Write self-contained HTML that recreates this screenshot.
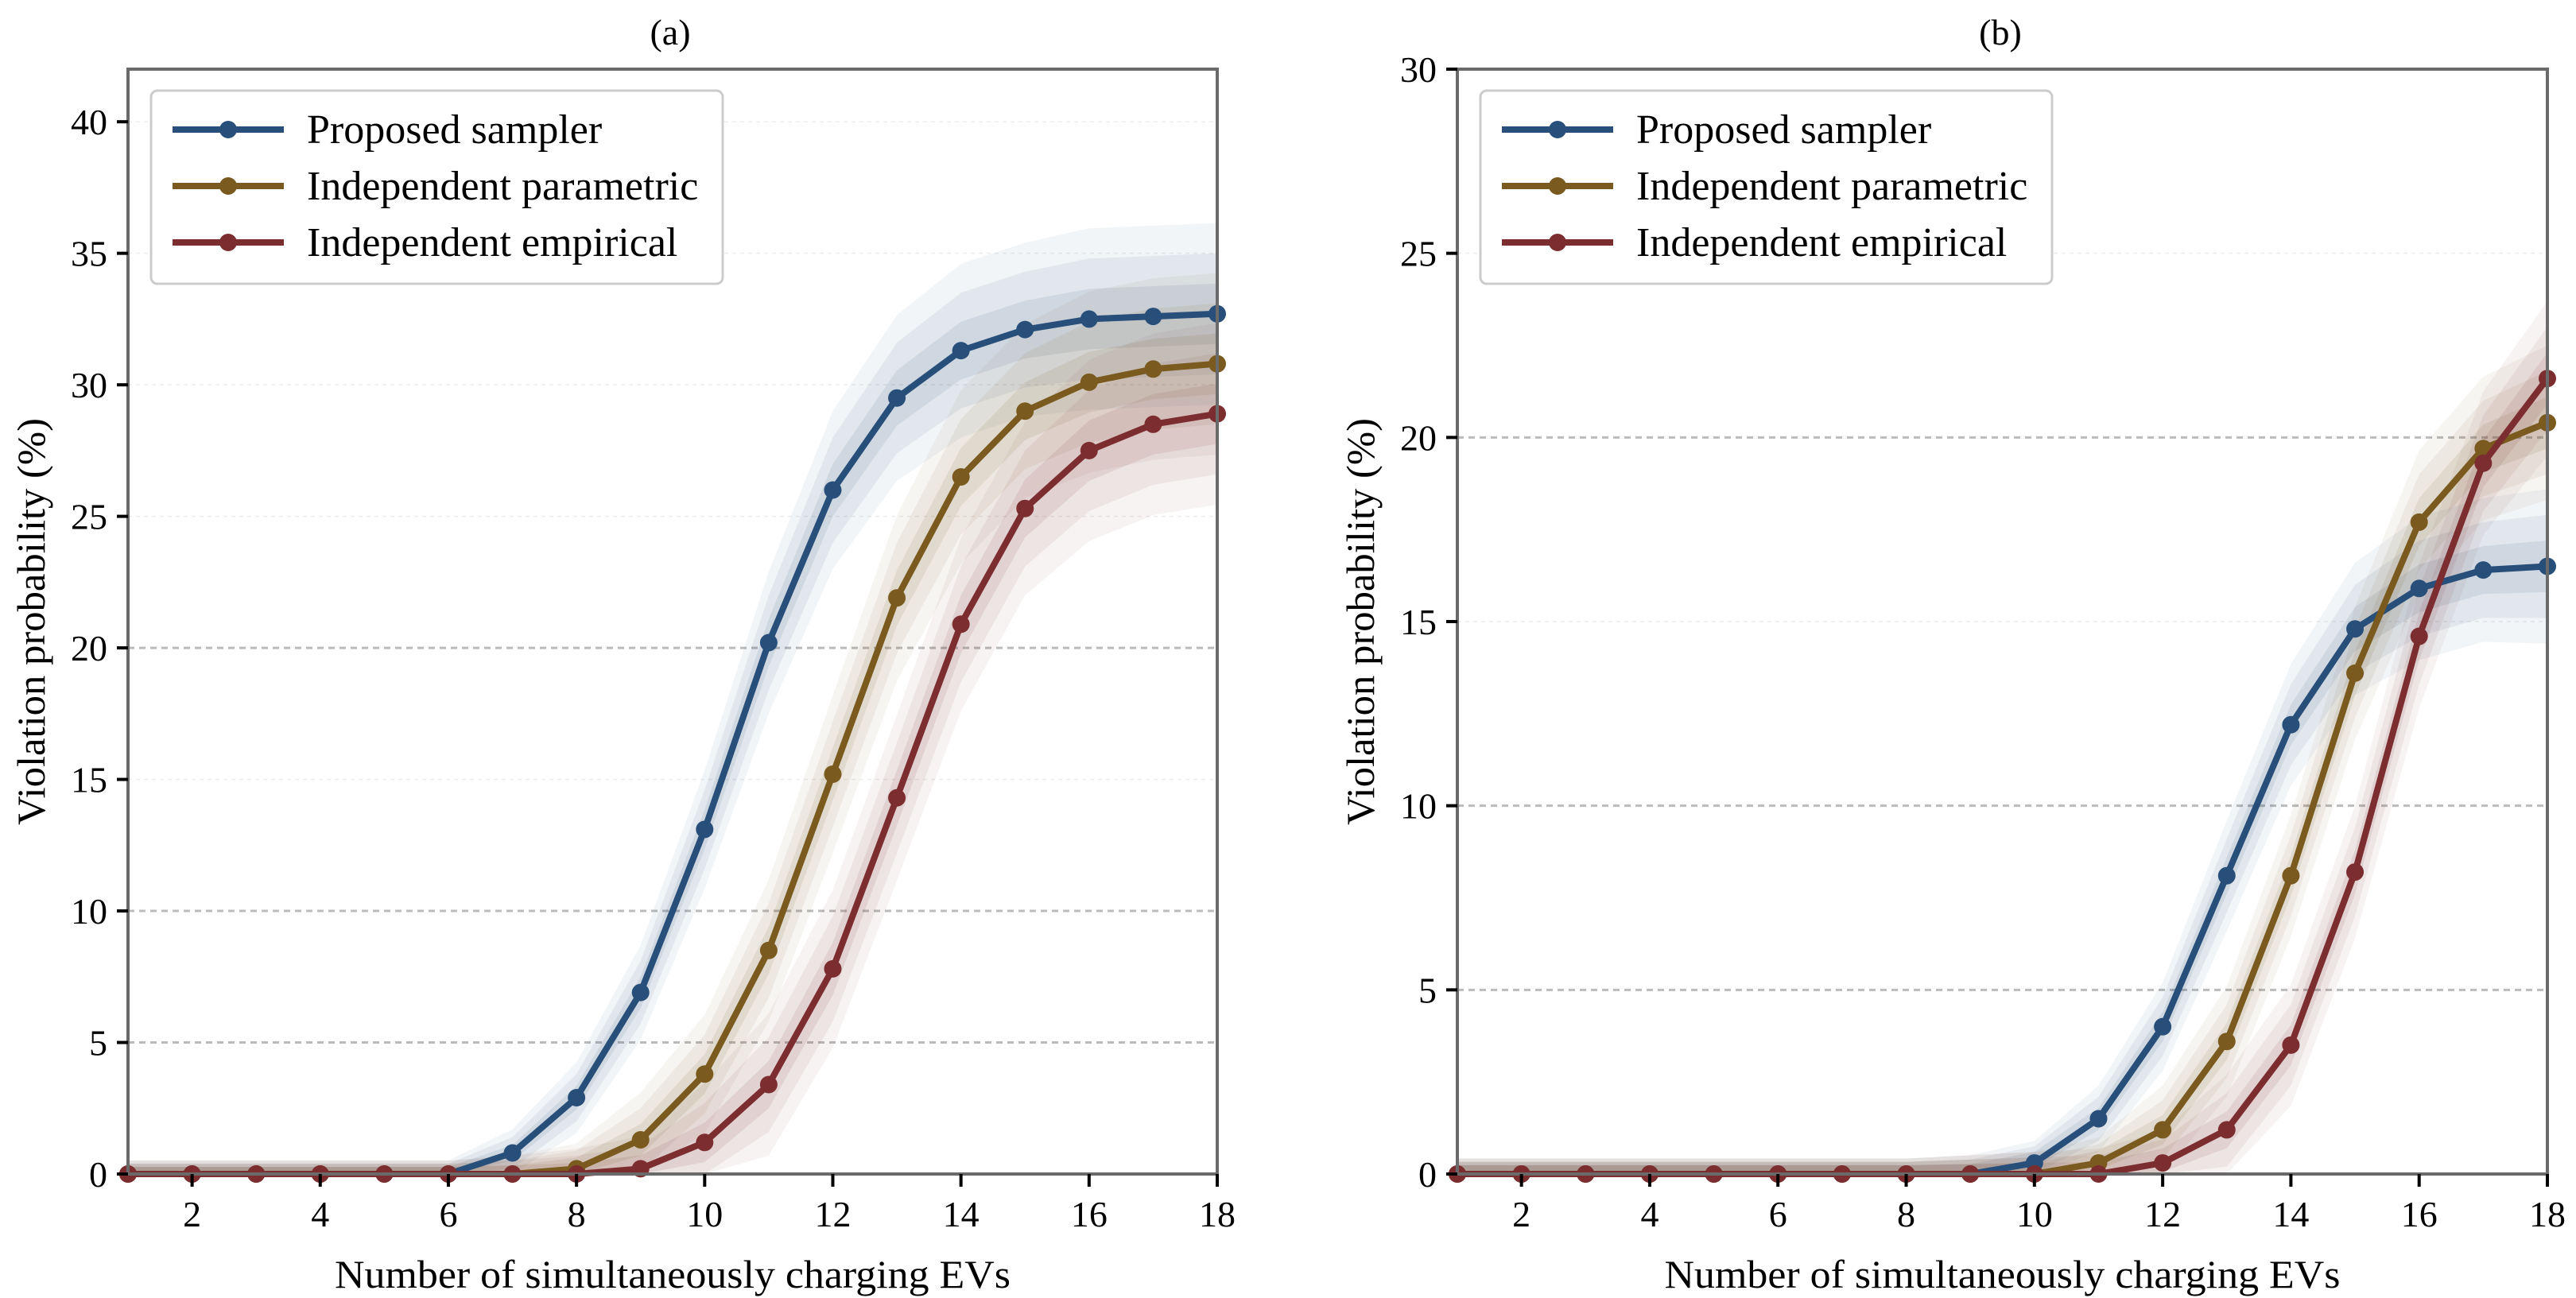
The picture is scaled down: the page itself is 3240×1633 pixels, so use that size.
<!DOCTYPE html>
<html><head><meta charset="utf-8"><style>
html,body{margin:0;padding:0;background:#fff;}
svg{display:block;font-family:"Liberation Serif","DejaVu Serif",serif;}
</style></head><body>
<svg id="chart" width="3240" height="1633" viewBox="0 0 3240 1633" xmlns="http://www.w3.org/2000/svg"></svg>
<script>
const xCats = [1,2,3,4,5,6,7,8,9,10,11,12,13,14,15,16,17,18];
const xTicks = [2,4,6,8,10,12,14,16,18];
const aYTicks = [0,5,10,15,20,25,30,35,40];
const bYTicks = [0,5,10,15,20,25,30];
const seriesNames = ["Proposed sampler","Independent parametric","Independent empirical"];
const aProposed = [0,0,0,0,0,0,0.8,2.9,6.9,13.1,20.2,26.0,29.5,31.3,32.1,32.5,32.6,32.7];
const aParametric = [0,0,0,0,0,0,0,0.2,1.3,3.8,8.5,15.2,21.9,26.5,29.0,30.1,30.6,30.8];
const aEmpirical = [0,0,0,0,0,0,0,0,0.2,1.2,3.4,7.8,14.3,20.9,25.3,27.5,28.5,28.9];
const aSpread = [0.4,0.4,0.4,0.4,0.4,0.4,0.6,0.9,1.2,1.5,1.8,2.0,2.1,2.2,2.2,2.3,2.3,2.3];
const bProposed = [0,0,0,0,0,0,0,0,0,0.3,1.5,4.0,8.1,12.2,14.8,15.9,16.4,16.5];
const bParametric = [0,0,0,0,0,0,0,0,0,0,0.3,1.2,3.6,8.1,13.6,17.7,19.7,20.4];
const bEmpirical = [0,0,0,0,0,0,0,0,0,0,0,0.3,1.2,3.5,8.2,14.6,19.3,21.6];
const bSpread = [0.3,0.3,0.3,0.3,0.3,0.3,0.3,0.3,0.4,0.5,0.6,0.8,1.0,1.1,1.2,1.3,1.3,1.4];
const colors = ["#284e7a","#7a5a1e","#7c2d2f"];

const NS="http://www.w3.org/2000/svg";
const svg=document.getElementById('chart');
function mk(tag,attrs,parent){const e=document.createElementNS(NS,tag);for(const k in attrs)e.setAttribute(k,attrs[k]);(parent||svg).appendChild(e);return e;}

function panel(cfg){
  const {L,R,T,B,ymax,yTicks,series,spread,title,titleX,key}=cfg;
  const g=mk('g',{});
  
  
  const xs=v=>L+(v-1)/(17)*(R-L);
  const ys=v=>B-v/ymax*(B-T);
  yTicks.forEach(t=>{
    if(t===0||t===ymax) return;
    const strong=(t===5||t===10||t===20);
    const l=mk('line',{x1:L,x2:R,y1:ys(t),y2:ys(t),stroke:strong?'#bbbbbb':'#ececec','stroke-width':strong?3:1.5,'stroke-dasharray':strong?'8,6':'5,5'},g);
    
    
  });
  const mult=[1.5,1.0,0.5];
  const ops=[0.06,0.08,0.1];
  series.forEach((s,si)=>{
    mult.forEach((m,mi)=>{
      let pts=[];
      xCats.forEach((x,i)=>{const scale=s[i]>0.5?1:0.6;pts.push(xs(x)+','+ys(Math.min(ymax,s[i]+m*spread[i]*scale+(s[i]>0.5?0:0.15))));});
      for(let i=xCats.length-1;i>=0;i--){const scale=s[i]>0.5?1:0.6;pts.push(xs(xCats[i])+','+ys(Math.max(0,s[i]-m*spread[i]*scale)));}
      const p=mk('polygon',{points:pts.join(' '),fill:colors[si],'fill-opacity':ops[mi]},g);
      
      
    });
  });
  series.forEach((s,si)=>{
    const pl=mk('polyline',{points:xCats.map((x,i)=>xs(x)+','+ys(s[i])).join(' '),fill:'none',stroke:colors[si],'stroke-width':8,'stroke-linejoin':'round'},g);
    
    
    xCats.forEach((x,i)=>{
      const c=mk('circle',{cx:xs(x),cy:ys(s[i]),r:11,fill:colors[si]},g);
      
      
    });
  });
  const frame=mk('rect',{x:L,y:T,width:R-L,height:B-T,fill:'none',stroke:'#6a6a6a','stroke-width':4},g);
  
  
  yTicks.forEach(t=>{
    const tl=mk('line',{x1:L-14,x2:L,y1:ys(t),y2:ys(t),stroke:'#000','stroke-width':4},g);
    
    
    const tx=mk('text',{x:L-26,y:ys(t)+16,'text-anchor':'end','font-size':46},g);
    tx.textContent=t;
    
    
  });
  xTicks.forEach(t=>{
    const tl=mk('line',{x1:xs(t),x2:xs(t),y1:B,y2:B+16,stroke:'#000','stroke-width':4},g);
    
    
    const tx=mk('text',{x:xs(t),y:B+66,'text-anchor':'middle','font-size':46},g);
    tx.textContent=t;
    
    
  });
  const xl=mk('text',{x:(L+R)/2,y:1620,'text-anchor':'middle','font-size':50,textLength:850,lengthAdjust:'spacingAndGlyphs'},g);
  xl.textContent='Number of simultaneously charging EVs';
  
  
  const ylx=cfg.yLabelX, yly=(T+B)/2;
  const yl=mk('text',{x:ylx,y:yly,'text-anchor':'middle','font-size':50,textLength:512,lengthAdjust:'spacingAndGlyphs',transform:'rotate(-90 '+ylx+' '+yly+')'},g);
  yl.textContent='Violation probability (%)';
  
  
  const tt=mk('text',{x:titleX,y:56,'text-anchor':'middle','font-size':46},g);
  tt.textContent=title;
  
  
  const lg=mk('g',{},g);
  
  
  const lx=L+29;
  const box=mk('rect',{x:lx,y:114,width:719,height:243,rx:8,fill:'#fff','fill-opacity':0.9,stroke:'#cccccc','stroke-width':3},lg);
  
  
  seriesNames.forEach((n,i)=>{
    const y=163+i*71;
    const e=mk('g',{},lg);
    
    
    mk('line',{x1:lx+27,x2:lx+167,y1:y,y2:y,stroke:colors[i],'stroke-width':8},e);
    mk('circle',{cx:lx+97,cy:y,r:11,fill:colors[i]},e);
    const t=mk('text',{x:lx+196,y:y+17,'font-size':52},e);
    t.textContent=n;
  });
}
panel({key:'a',L:161,R:1531,T:87,B:1477,ymax:42,yTicks:aYTicks,series:[aProposed,aParametric,aEmpirical],spread:aSpread,title:'(a)',titleX:843,yLabelX:56});
panel({key:'b',L:1833,R:3204,T:87,B:1477,ymax:30,yTicks:bYTicks,series:[bProposed,bParametric,bEmpirical],spread:bSpread,title:'(b)',titleX:2516,yLabelX:1728});
</script>
</body></html>
